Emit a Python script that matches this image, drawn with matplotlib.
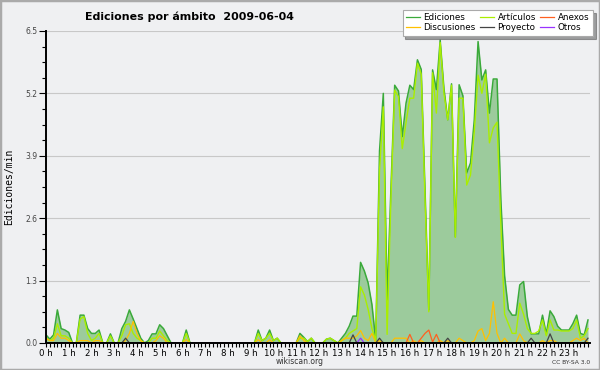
import numpy as np
import matplotlib
matplotlib.use("Agg")
import matplotlib.pyplot as plt
from matplotlib.ticker import MultipleLocator, FixedLocator, FixedFormatter
from matplotlib.patches import Rectangle

# ---- data: 144 ten-minute bins (edits per minute) ----
hours = [f"{h} h" for h in range(24)]

ediciones = [
    0.17, 0.08, 0.17, 0.69, 0.30, 0.27, 0.22, 0.00, 0.00, 0.58,   # 0-9
    0.58, 0.30, 0.20, 0.20, 0.27, 0.00, 0.00, 0.19, 0.00, 0.00,   # 10-19
    0.30, 0.45, 0.69, 0.50, 0.30, 0.10, 0.00, 0.05, 0.19, 0.19,   # 20-29
    0.38, 0.30, 0.15, 0.00, 0.00, 0.00, 0.00, 0.27, 0.00, 0.00,   # 30-39
    0.00, 0.00, 0.00, 0.00, 0.00, 0.00, 0.00, 0.00, 0.00, 0.00,   # 40-49
    0.00, 0.00, 0.00, 0.00, 0.00, 0.00, 0.27, 0.05, 0.10, 0.27,   # 50-59
    0.05, 0.10, 0.00, 0.00, 0.00, 0.00, 0.00, 0.20, 0.12, 0.03,   # 60-69
    0.10, 0.00, 0.00, 0.00, 0.08, 0.10, 0.05, 0.00, 0.10, 0.20,   # 70-79
    0.35, 0.56, 0.56, 1.68, 1.50, 1.25, 0.80, 0.05, 4.00, 5.20,   # 80-89
    0.90, 3.20, 5.37, 5.25, 4.30, 5.00, 5.37, 5.28, 5.90, 5.70,   # 90-99
    3.20, 0.69, 5.69, 5.28, 6.31, 5.30, 4.65, 5.40, 2.21, 5.38,   # 100-109
    5.15, 3.54, 3.75, 4.65, 6.28, 5.48, 5.69, 4.79, 5.50, 5.50,   # 110-119
    3.00, 1.40, 0.70, 0.58, 0.58, 1.21, 1.28, 0.55, 0.19, 0.19,   # 120-129
    0.19, 0.58, 0.19, 0.67, 0.55, 0.35, 0.27, 0.27, 0.27, 0.40,   # 130-139
    0.58, 0.20, 0.17, 0.48,                                       # 140-143
]

articulos = [
    0.10, 0.05, 0.10, 0.40, 0.15, 0.15, 0.10, 0.00, 0.00, 0.50,
    0.55, 0.20, 0.05, 0.10, 0.20, 0.00, 0.00, 0.15, 0.00, 0.00,
    0.15, 0.38, 0.40, 0.20, 0.10, 0.05, 0.00, 0.00, 0.10, 0.10,
    0.25, 0.15, 0.05, 0.00, 0.00, 0.00, 0.00, 0.20, 0.00, 0.00,
    0.00, 0.00, 0.00, 0.00, 0.00, 0.00, 0.00, 0.00, 0.00, 0.00,
    0.00, 0.00, 0.00, 0.00, 0.00, 0.00, 0.20, 0.05, 0.10, 0.20,
    0.05, 0.10, 0.00, 0.00, 0.00, 0.00, 0.00, 0.10, 0.10, 0.03,
    0.10, 0.00, 0.00, 0.00, 0.08, 0.10, 0.05, 0.00, 0.05, 0.10,
    0.20, 0.25, 0.30, 1.17, 1.00, 0.70, 0.30, 0.05, 3.60, 4.92,
    0.18, 3.00, 5.27, 5.13, 4.05, 4.60, 5.10, 5.10, 5.83, 5.60,
    3.00, 0.65, 5.63, 4.79, 6.26, 5.20, 4.65, 5.37, 2.20, 5.10,
    5.10, 3.29, 3.50, 4.40, 5.58, 5.20, 5.60, 4.17, 4.48, 4.60,
    2.50, 0.60, 0.40, 0.20, 0.20, 0.83, 0.60, 0.30, 0.20, 0.20,
    0.25, 0.48, 0.15, 0.48, 0.27, 0.27, 0.25, 0.25, 0.25, 0.30,
    0.48, 0.10, 0.15, 0.30,
]

discusiones = [
    0.10, 0.05, 0.05, 0.20, 0.10, 0.10, 0.05, 0.00, 0.00, 0.05,
    0.05, 0.05, 0.00, 0.05, 0.05, 0.00, 0.00, 0.00, 0.00, 0.00,
    0.00, 0.05, 0.20, 0.45, 0.20, 0.05, 0.00, 0.00, 0.00, 0.05,
    0.15, 0.10, 0.00, 0.00, 0.00, 0.00, 0.00, 0.07, 0.00, 0.00,
    0.00, 0.00, 0.00, 0.00, 0.00, 0.00, 0.00, 0.00, 0.00, 0.00,
    0.00, 0.00, 0.00, 0.00, 0.00, 0.00, 0.07, 0.00, 0.00, 0.07,
    0.00, 0.00, 0.00, 0.00, 0.00, 0.00, 0.00, 0.15, 0.05, 0.00,
    0.00, 0.00, 0.00, 0.00, 0.00, 0.00, 0.00, 0.00, 0.05, 0.10,
    0.10, 0.10, 0.15, 0.26, 0.10, 0.05, 0.20, 0.00, 0.05, 0.00,
    0.00, 0.00, 0.10, 0.10, 0.10, 0.10, 0.00, 0.05, 0.00, 0.05,
    0.00, 0.00, 0.00, 0.00, 0.05, 0.00, 0.05, 0.00, 0.00, 0.10,
    0.05, 0.00, 0.00, 0.05, 0.25, 0.30, 0.05, 0.20, 0.86, 0.20,
    0.00, 0.10, 0.00, 0.00, 0.00, 0.19, 0.05, 0.00, 0.00, 0.00,
    0.00, 0.05, 0.00, 0.05, 0.05, 0.00, 0.00, 0.00, 0.00, 0.05,
    0.10, 0.05, 0.10, 0.00,
]

anexos = [0.0] * 144
for i, v in [(96, 0.18), (99, 0.10), (100, 0.20), (101, 0.27), (102, 0.02), (103, 0.18)]:
    anexos[i] = v

proyecto = [0.0] * 144
for i, v in [(21, 0.10), (81, 0.17), (88, 0.10), (106, 0.10), (128, 0.10), (133, 0.19), (143, 0.10)]:
    proyecto[i] = v

otros = [0.0] * 144
otros[83] = 0.10

x = np.arange(len(ediciones))

# ---- figure ----
BG = "#eff0f2"
fig = plt.figure(figsize=(6.0, 3.7), dpi=100, facecolor=BG)
ax = fig.add_axes([46 / 600, 1 - 343 / 370, (589.5 - 46) / 600, (343 - 31) / 370])
ax.set_facecolor(BG)

for yv in [1.3, 2.6, 3.9, 5.2, 6.5]:
    ax.axhline(yv, color="#c8c8c8", lw=0.8, zorder=0)

ax.fill_between(x, ediciones, 0, color="#9ccb9c", lw=0, zorder=1)
l_ed, = ax.plot(x, ediciones, color="#3aaa3a", lw=1.1, zorder=3, label="Ediciones")
l_ar, = ax.plot(x, articulos, color="#aaee00", lw=1.0, zorder=4, label="Artículos")
l_di, = ax.plot(x, discusiones, color="#ffc000", lw=0.9, zorder=5, label="Discusiones")
l_an, = ax.plot(x, anexos, color="#ff6020", lw=0.9, zorder=5, label="Anexos")
l_pr, = ax.plot(x, proyecto, color="#444444", lw=0.9, zorder=6, label="Proyecto")
l_ot, = ax.plot(x, otros, color="#9933ff", lw=0.9, zorder=7, label="Otros")

ax.set_xlim(0, 143.4)
ax.set_ylim(0, 6.5)

ax.spines["top"].set_visible(False)
ax.spines["right"].set_visible(False)
for s in ("left", "bottom"):
    ax.spines[s].set_linewidth(1.4)
    ax.spines[s].set_zorder(20)

ax.xaxis.set_major_locator(FixedLocator([6 * h for h in range(24)]))
ax.xaxis.set_major_formatter(FixedFormatter(hours))
ax.xaxis.set_minor_locator(MultipleLocator(1))
ax.tick_params(axis="x", which="both", length=3, width=0.8, pad=1,
               labelsize=6.2, colors="black")

ax.set_yticks([0, 1.3, 2.6, 3.9, 5.2, 6.5])
ax.set_yticklabels(["0.0", "1.3", "2.6", "3.9", "5.2", "6.5"])
ax.yaxis.set_minor_locator(MultipleLocator(0.325))
ax.tick_params(axis="y", which="major", length=5, width=0.8, pad=1,
               labelsize=5.5, labelcolor="#444444")
ax.tick_params(axis="y", which="minor", length=3, width=0.8)

ax.set_ylabel("Ediciones/min", family="DejaVu Sans Mono", fontsize=7, labelpad=8)

fig.text(85 / 600, 1 - 17 / 370, "Ediciones por ámbito  2009-06-04",
         fontsize=7.9, fontweight="bold", ha="left", va="center")

fig.text(300 / 600, 1 - 362 / 370, "wikiscan.org", fontsize=5.5,
         ha="center", va="center", color="#333333")
fig.text(590 / 600, 1 - 362 / 370, "CC BY-SA 3.0", fontsize=4.3,
         ha="right", va="center", color="#333333")

leg = fig.legend([l_ed, l_di, l_ar, l_pr, l_an, l_ot],
                 ["Ediciones", "Discusiones", "Artículos", "Proyecto", "Anexos", "Otros"],
                 ncol=3, loc="upper right", bbox_to_anchor=(593 / 600, 1 - 10 / 370),
                 fontsize=6.3, frameon=True, fancybox=False, shadow=True,
                 handlelength=1.6, handletextpad=0.4, columnspacing=0.5,
                 labelspacing=0.1, borderpad=0.4, borderaxespad=0)
leg.get_frame().set_edgecolor("#aaaaaa")
leg.get_frame().set_facecolor("white")
leg.get_frame().set_linewidth(0.8)
for ln in leg.get_lines():
    ln.set_linewidth(0.9)

fig.patches.append(Rectangle((0, 0), 1, 1, transform=fig.transFigure,
                             fill=False, edgecolor="#aaaaaa", lw=2.5))

fig.savefig("out.png", dpi=100, facecolor=BG)
